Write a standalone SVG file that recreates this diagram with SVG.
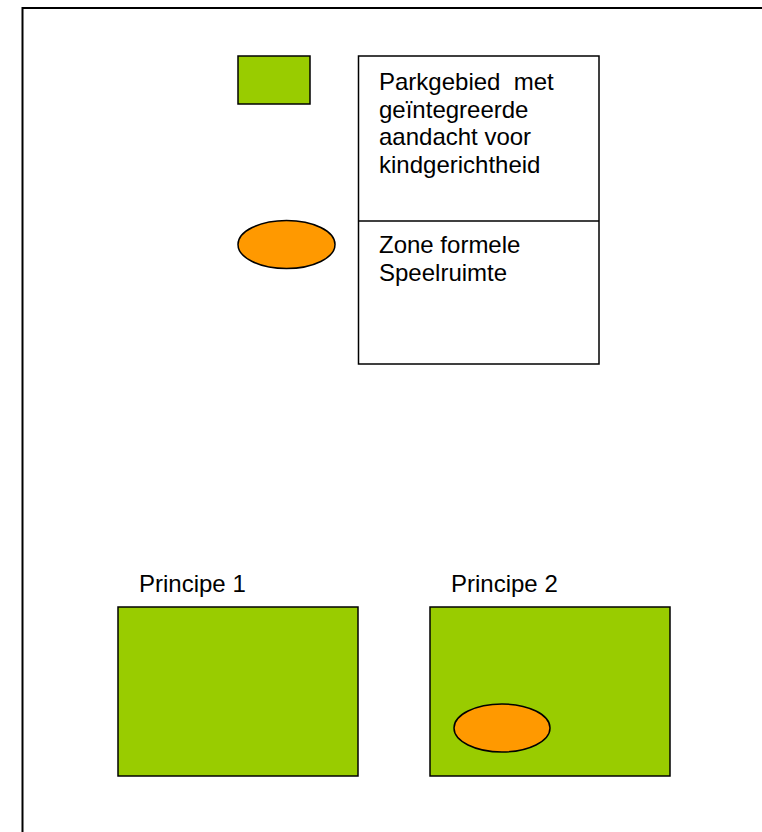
<svg xmlns="http://www.w3.org/2000/svg" width="762" height="832" viewBox="0 0 762 832">
<style>
text{font-family:"Liberation Sans",Arial,sans-serif;font-size:24px;fill:#000;white-space:pre}
.g{fill:#99CC00;stroke:#000;stroke-width:1.5}
.o{fill:#FF9900;stroke:#000;stroke-width:1.5}
.w{fill:#fff;stroke:#000;stroke-width:1.5}
</style>
<rect width="762" height="832" fill="#fff"/>
<g id="frame"><path d="M22.5 840 V8 H770" fill="none" stroke="#000" stroke-width="2"/></g>
<g id="legend-park"><rect class="g" x="238" y="56" width="72" height="48"/></g>
<g id="legend-zone"><ellipse class="o" cx="286.5" cy="244.5" rx="48.5" ry="24"/></g>
<g id="legend-box">
<rect class="w" x="358.5" y="56" width="240.5" height="308"/>
<line x1="358.5" y1="221" x2="599" y2="221" stroke="#000" stroke-width="1.5"/>
<text x="379" y="90" xml:space="preserve">Parkgebied  met</text>
<text x="379" y="117.5">geïntegreerde</text>
<text x="379" y="145">aandacht voor</text>
<text x="379" y="172.5">kindgerichtheid</text>
<text x="379" y="253">Zone formele</text>
<text x="379" y="280.5">Speelruimte</text>
</g>
<g id="principe1">
<text x="139" y="591.5">Principe 1</text>
<rect class="g" x="118" y="607" width="240" height="169"/>
</g>
<g id="principe2">
<text x="451" y="591.5">Principe 2</text>
<rect class="g" x="430" y="607" width="240" height="169"/>
<ellipse class="o" cx="502" cy="728" rx="48" ry="24"/>
</g>
<g id="connectors"/>
</svg>
